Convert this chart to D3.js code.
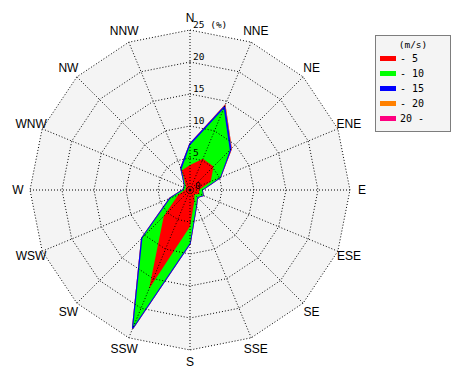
<!DOCTYPE html>
<html>
<head>
<meta charset="utf-8">
<script src="https://cdn.jsdelivr.net/npm/d3@7"></script>
<style>
  html, body { margin: 0; padding: 0; background: #ffffff; }
  svg { display: block; }
</style>
</head>
<body>
<svg id="chart" width="470" height="380"></svg>
<script>
// ---- data ----
const directions = ["N","NNE","NE","ENE","E","ESE","SE","SSE","S","SSW","SW","WSW","W","WNW","NW","NNW"];
const speedClasses = ["- 5","- 10","- 15","- 20","20 -"];
const classColors = ["#ff0000","#00ff00","#0000ff","#ff8000","#ff0080"];
// frequency (%) per direction for each speed class
const speed0to5   = [3.9, 5.3, 5.2, 3.5, 1.4, 1.6, 1.0, 1.8, 5.7, 16.7, 5.8, 2.0, 0.8, 0.7, 0.9, 3.3];
const speed5to10  = [3.1, 8.5, 3.6, 1.6, 0.5, 0.6, 0.6, 0.8, 2.6, 6.5, 4.7, 1.3, 0.3, 0.3, 0.3, 0.2];
const speed10to15 = [0.2, 0.3, 0.2, 0.0, 0.0, 0.0, 0.0, 0.0, 0.05, 0.2, 0.15, 0.1, 0.0, 0.0, 0.0, 0.2];
const speed15to20 = [0.0, 0.15, 0.1, 0.0, 0.0, 0.0, 0.0, 0.0, 0.0, 0.0, 0.0, 0.0, 0.0, 0.0, 0.0, 0.0];
const speedOver20 = [0.0, 0.0, 0.0, 0.0, 0.0, 0.0, 0.0, 0.0, 0.0, 0.0, 0.0, 0.0, 0.0, 0.0, 0.0, 0.0];
const ringTicks = [5, 10, 15, 20, 25];
const unitLabel = "(m/s)";

// ---- layout ----
const cx = 190, cy = 190;
const svg = d3.select("#chart");
const r = d3.scaleLinear().domain([0, 25]).range([0, 160]);
const angle = d3.scalePoint().domain(directions).range([0, 360 - 22.5]);
function pt(dir, v) {
  const a = angle(dir) * Math.PI / 180;
  return [cx + Math.sin(a) * r(v), cy - Math.cos(a) * r(v)];
}
const g = svg.append("g");

// background of polar area
g.append("polygon")
  .attr("points", directions.map(d => pt(d, 25).join(",")).join(" "))
  .attr("fill", "#f4f4f4");

// stacked series (cumulative)
const series = [speed0to5, speed5to10, speed10to15, speed15to20, speedOver20];
const cumulative = [];
series.forEach((s, i) => {
  cumulative.push(s.map((v, j) => v + (i > 0 ? cumulative[i - 1][j] : 0)));
});
for (let i = series.length - 1; i >= 0; i--) {
  g.append("polygon")
    .attr("points", directions.map((d, j) => pt(d, cumulative[i][j]).join(",")).join(" "))
    .attr("fill", classColors[i])
    .attr("stroke", classColors[i])
    .attr("stroke-width", i === 0 || i === 1 ? 0 : 1.5)
    .attr("stroke-linejoin", "miter");
}

// grid rings
ringTicks.forEach(t => {
  g.append("polygon")
    .attr("points", directions.map(d => pt(d, t).join(",")).join(" "))
    .attr("fill", "none")
    .attr("stroke", "#000")
    .attr("stroke-width", 1)
    .attr("stroke-dasharray", "1,2");
});
// radial lines
directions.forEach(d => {
  const p = pt(d, 25);
  g.append("line")
    .attr("x1", cx).attr("y1", cy).attr("x2", p[0]).attr("y2", p[1])
    .attr("stroke", "#000").attr("stroke-width", 1).attr("stroke-dasharray", "1,2");
});
g.append("circle").attr("cx", cx).attr("cy", cy).attr("r", 1.5).attr("fill", "#000");

// ring labels
const tickFont = "'DejaVu Sans Mono', monospace";
g.append("text").attr("x", cx + 5).attr("y", cy - 1).text("0")
  .attr("font-family", tickFont).attr("font-size", 9.5).attr("fill", "#000");
ringTicks.forEach(t => {
  g.append("text")
    .attr("x", cx + 3)
    .attr("y", cy - r(t) - 2)
    .text(t === 25 ? t + " (%)" : t)
    .attr("font-family", tickFont).attr("font-size", 9.5).attr("fill", "#000");
});

// direction labels
directions.forEach(d => {
  const p = pt(d, 25 * 172 / 160);
  g.append("text")
    .attr("x", p[0]).attr("y", p[1] + 4)
    .attr("text-anchor", "middle")
    .attr("font-family", "'Liberation Sans', Arial, sans-serif")
    .attr("font-size", 12)
    .attr("fill", "#000")
    .text(d);
});

// legend
const lg = svg.append("g");
lg.append("rect").attr("x", 375.5).attr("y", 35.5).attr("width", 75).attr("height", 96)
  .attr("fill", "#f4f4f4").attr("stroke", "#000").attr("stroke-dasharray", "1,1");
lg.append("text").attr("x", 413).attr("y", 48).attr("text-anchor", "middle")
  .attr("font-family", tickFont).attr("font-size", 9.5).text(unitLabel);
speedClasses.forEach((s, i) => {
  const y = 58 + i * 15;
  lg.append("rect").attr("x", 380).attr("y", y - 2).attr("width", 16).attr("height", 5)
    .attr("fill", classColors[i]);
  lg.append("text").attr("x", 400).attr("y", y + 4)
    .attr("font-family", tickFont).attr("font-size", 10).text(s);
});
</script>
</body>
</html>
